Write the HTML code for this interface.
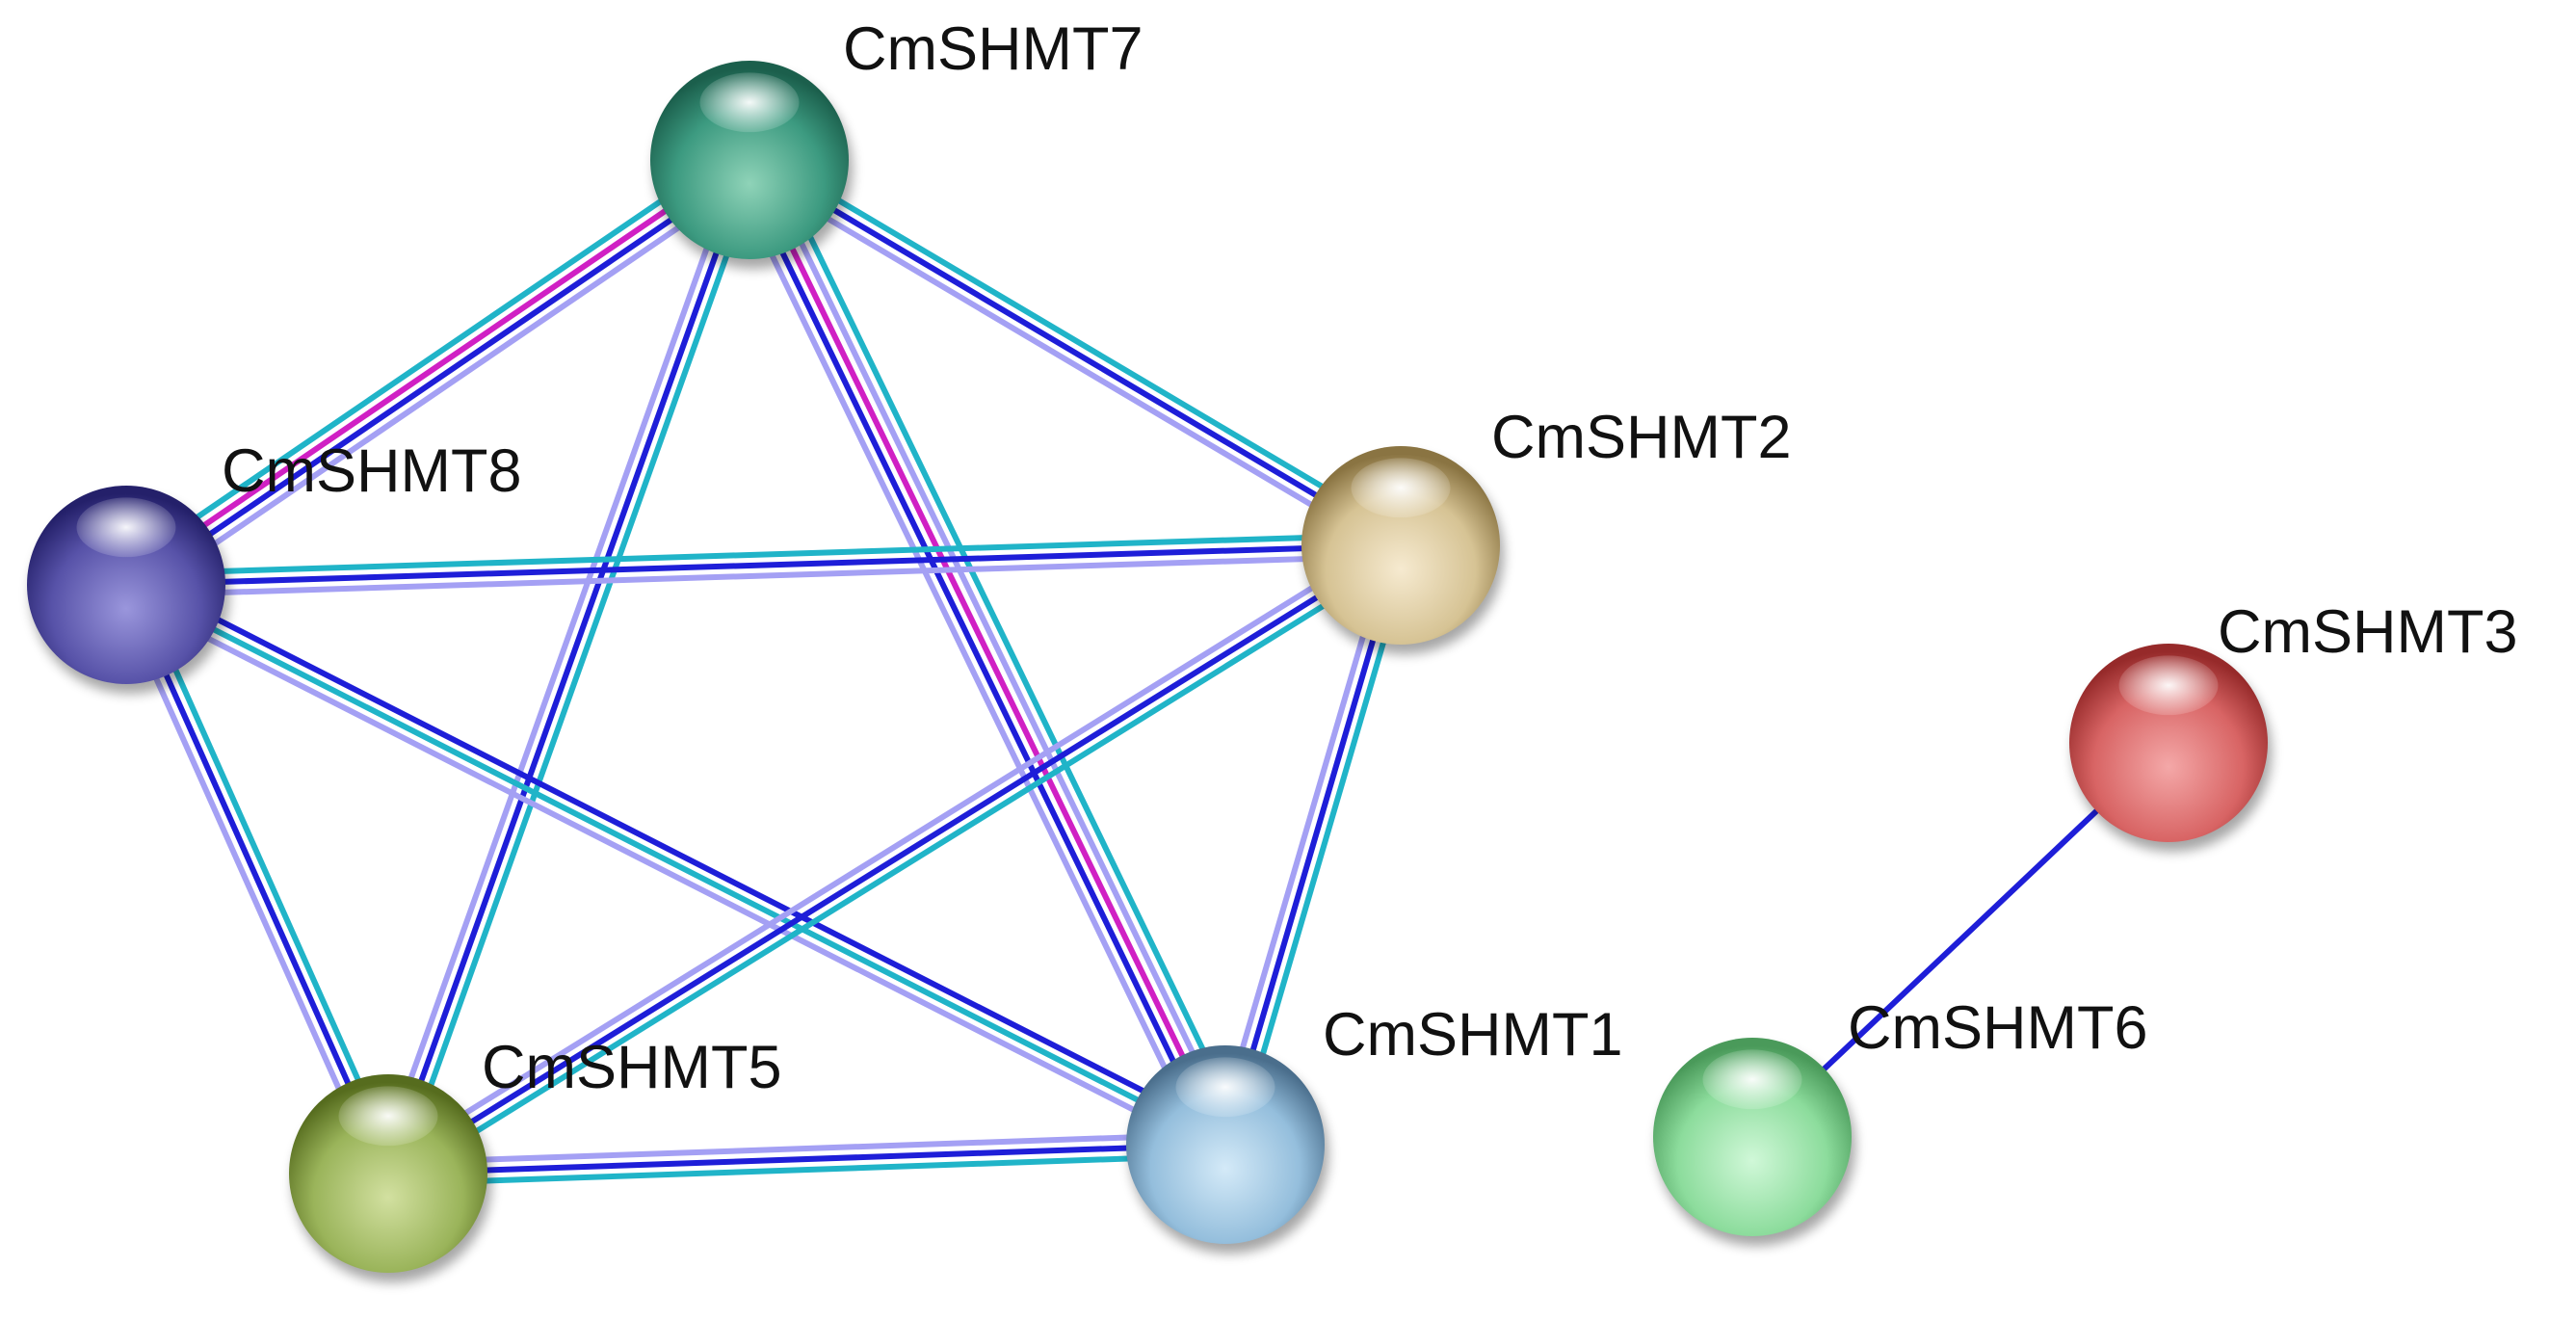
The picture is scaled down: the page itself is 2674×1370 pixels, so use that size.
<!DOCTYPE html>
<html><head><meta charset="utf-8"><style>
html,body{margin:0;padding:0;background:#fff;}
svg{display:block}
text{font-family:"Liberation Sans",Arial,sans-serif;font-size:63px;fill:#111;}
</style></head><body>
<svg id="s" width="2674" height="1370" viewBox="0 0 2674 1370" xmlns="http://www.w3.org/2000/svg">
<defs>
<filter id="sh" x="-30%" y="-30%" width="160%" height="160%"><feGaussianBlur stdDeviation="6"/></filter>
<radialGradient id="hl" cx="50%" cy="50%" r="50%"><stop offset="0" stop-color="#fff" stop-opacity="0.95"/><stop offset="1" stop-color="#fff" stop-opacity="0.15"/></radialGradient>
</defs>
<g id="edges"></g>
<g id="nodes"></g>
<g id="labels">
<text x="875" y="72">CmSHMT7</text>
<text x="230" y="510">CmSHMT8</text>
<text x="1548" y="475">CmSHMT2</text>
<text x="2302" y="677">CmSHMT3</text>
<text x="1373" y="1095">CmSHMT1</text>
<text x="1918" y="1088">CmSHMT6</text>
<text x="500" y="1129">CmSHMT5</text>
</g>
</svg>
<script>
var N={7:[778,166,'#8fd3b8','#3c9a80','#1b5f4c'],8:[131,607,'#9a96dc','#5752a8','#24206a'],2:[1454,566,'#f6ead0','#d6c394','#8a7442'],3:[2251,771,'#f4a8a8','#d86464','#962a2a'],6:[1819,1180,'#d0f8d8','#8cdc9c','#4a9a5a'],1:[1272,1188,'#d4eaf8','#94bedc','#4a6e8c'],5:[403,1218,'#d2e0a0','#9ab45a','#566c1e']};
var L='#a4a0f4',B='#1e1ed8',C='#20b4c8',M='#d020c4';
var E=[[7,8,[L,B,M,C]],[7,2,[C,B,L]],[7,5,[C,B,L]],[7,1,[C,L,M,B,L]],[8,2,[C,B,L]],[8,5,[C,B,L]],[8,1,[B,C,L]],[2,5,[C,B,L]],[2,1,[C,B,L]],[5,1,[L,B,C]],[3,6,[B]]];
var ns='http://www.w3.org/2000/svg',eg=document.getElementById('edges'),ng=document.getElementById('nodes'),d=document.querySelector('defs');
function el(t,a,p){var e=document.createElementNS(ns,t);for(var k in a)e.setAttribute(k,a[k]);p.appendChild(e);return e;}
E.forEach(function(e){var a=N[e[0]],b=N[e[1]],dx=b[0]-a[0],dy=b[1]-a[1],l=Math.hypot(dx,dy),px=-dy/l,py=dx/l,n=e[2].length,sp=11;
e[2].forEach(function(c,i){var o=(i-(n-1)/2)*sp;el('line',{x1:a[0]+px*o,y1:a[1]+py*o,x2:b[0]+px*o,y2:b[1]+py*o,stroke:c,'stroke-width':6},eg);});});
Object.keys(N).forEach(function(k){var n=N[k],r=103;
var g=el('radialGradient',{id:'g'+k,cx:'50%',cy:'62%',r:'58%'},d);
el('stop',{offset:'0','stop-color':n[2]},g);el('stop',{offset:'0.65','stop-color':n[3]},g);el('stop',{offset:'1','stop-color':n[4]},g);
el('circle',{cx:n[0]+4,cy:n[1]+10,r:r,fill:'#000',opacity:0.35,filter:'url(#sh)'},ng);
el('circle',{cx:n[0],cy:n[1],r:r,fill:'url(#g'+k+')'},ng);
el('ellipse',{cx:n[0],cy:n[1]-r*0.58,rx:r*0.5,ry:r*0.3,fill:'url(#hl)'},ng);});
</script>
</body></html>
